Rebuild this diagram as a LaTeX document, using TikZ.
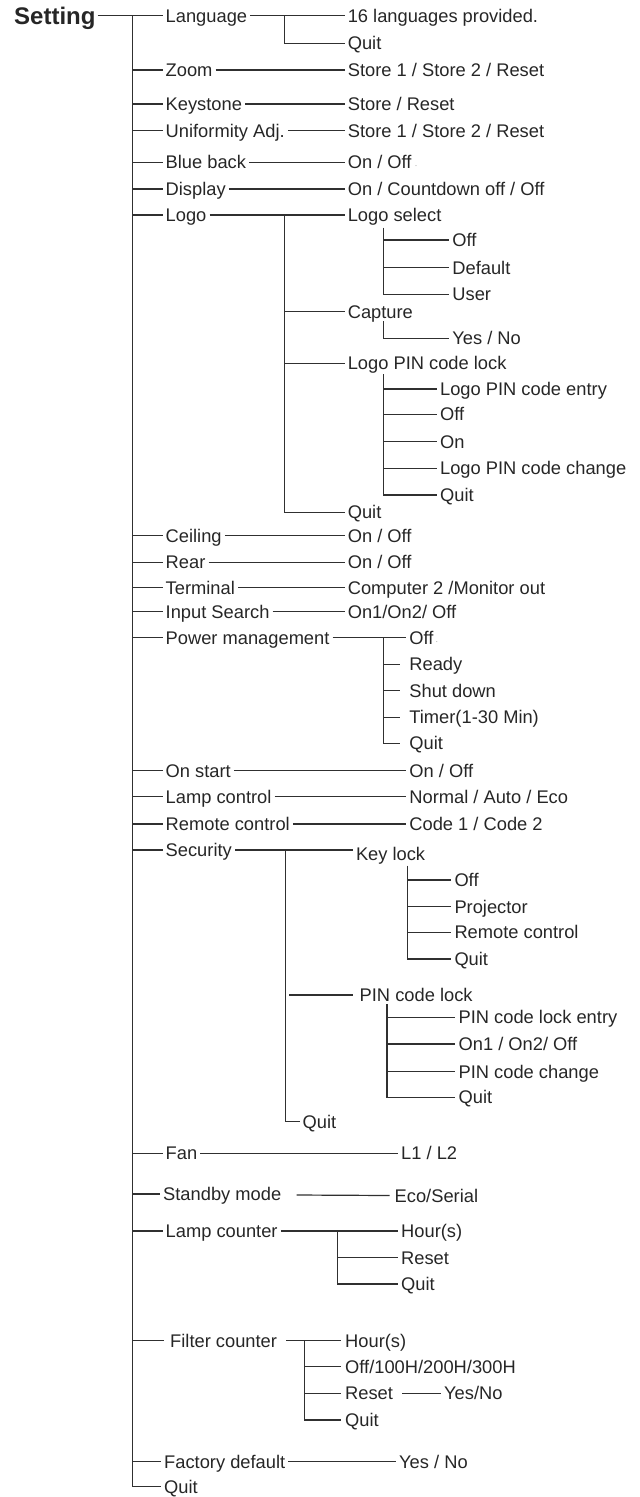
\documentclass[tikz,border=0pt]{standalone}
\usepackage{fontspec}
\setmainfont{Liberation Sans}
\definecolor{txt}{HTML}{262626}
\definecolor{lin}{HTML}{303030}
\begin{document}
\begin{tikzpicture}[x=1pt,y=-1pt,
  lbl/.style={anchor=west,inner xsep=3pt,inner ysep=0pt,text height=13.1pt,text depth=0pt,text=txt,font=\fontsize{18.3}{20}\selectfont},
  ttl/.style={anchor=west,inner xsep=2pt,inner ysep=0pt,text height=17.2pt,text depth=0pt,text=txt,font=\fontsize{24}{26}\bfseries\selectfont},
  ln/.style={draw=lin,line width=1.2pt},
  speck/.style={text=gray}]
\useasboundingbox (0,0) rectangle (640,1497);
% ---------- root ----------
\node[ttl] (set) at (12,15.5) {Setting};
\coordinate (mtop) at (132.5,15.5);
% ---------- level 1 ----------
\node[lbl] (lang)  at (162.5,15.5)  {Language};
\node[lbl] (zoom)  at (162.5,70)    {Zoom};
\node[lbl] (key)   at (162.5,104)   {Keystone};
\node[lbl] (uni)   at (162.5,130.7) {Uniformity Adj.};
\node[lbl] (blue)  at (162.5,162.3) {Blue back};
\node[lbl] (disp)  at (162.5,189)   {Display};
\node[lbl] (logo)  at (162.5,215)   {Logo};
\node[lbl] (ceil)  at (162.5,535.7) {Ceiling};
\node[lbl] (rear)  at (162.5,562.3) {Rear};
\node[lbl] (term)  at (162.5,587.7) {Terminal};
\node[lbl] (inp)   at (162.5,611.7) {Input Search};
\node[lbl] (pm)    at (162.5,637.7) {Power management};
\node[lbl] (ons)   at (162.5,770.7) {On start};
\node[lbl] (lamp)  at (162.5,796.7) {Lamp control};
\node[lbl] (rem)   at (162.5,824)   {Remote control};
\node[lbl] (sec)   at (162.5,850)   {Security};
\node[lbl] (fan)   at (162.5,1153.3){Fan};
\node[lbl] (stby)  at (160,1194)    {Standby mode};
\node[lbl] (lampc) at (162.5,1231)  {Lamp counter};
\node[lbl] (filt)  at (167,1340.7)  {Filter counter};
\node[lbl] (fact)  at (161,1461.7)  {Factory default};
\node[lbl] (mquit) at (161,1486.7)  {Quit};
% main trunk
\draw[ln] (set.east) -- (lang.west);
\draw[ln] (mtop) -- (mtop |- mquit.west) -- (mquit.west);
\foreach \n in {zoom,key,uni,blue,disp,logo,ceil,rear,term,inp,pm,ons,lamp,rem,sec,fan,stby,lampc,fact}
  \draw[ln] (mtop |- \n.west) -- (\n.west);
\draw[ln] (mtop |- filt.west) -- ([xshift=-3pt]filt.west);
% ---------- language ----------
\node[lbl] (lang16) at (344.6,15.5) {16 languages provided.};
\node[lbl] (langq)  at (344.6,43.3) {Quit};
\coordinate (langv) at (284.3,15.5);
\draw[ln] (lang.east) -- (lang16.west);
\draw[ln] (langv) |- (langq.west);
% ---------- simple pairs ----------
\node[lbl] (zoomv) at (344.6,70)    {Store 1 / Store 2 / Reset};
\node[lbl] (keyv)  at (344.6,104)   {Store / Reset};
\node[lbl] (univ)  at (344.6,130.7) {Store 1 / Store 2 / Reset};
\node[lbl] (bluev) at (344.6,162.3) {On / Off\hspace{3pt}{\color{gray!70}\fontsize{9}{10}\selectfont ·}};
\node[lbl] (dispv) at (344.6,189)   {On / Countdown off / Off};
\foreach \a/\b in {zoom/zoomv,key/keyv,uni/univ,blue/bluev,disp/dispv}
  \draw[ln] (\a.east) -- (\b.west);
% ---------- logo ----------
\node[lbl] (lsel)  at (344.6,215)   {Logo select};
\node[lbl] (cap)   at (344.6,311.7) {Capture};
\node[lbl] (lpin)  at (344.6,363.3) {Logo PIN code lock};
\node[lbl] (logoq) at (344.6,512.3) {Quit};
\coordinate (logov) at (284.3,215);
\draw[ln] (logo.east) -- (lsel.west);
\draw[ln] (logov) |- (logoq.west);
\draw[ln] (logov |- cap.west) -- (cap.west);
\draw[ln] (logov |- lpin.west) -- (lpin.west);
% logo select children
\node[lbl] (lsoff)  at (449.2,240)   {Off};
\node[lbl] (lsdef)  at (449.2,267.7) {Default};
\node[lbl] (lsuser) at (449.2,294.3) {User};
\coordinate (lsv) at (383.6,227.7);
\draw[ln] (lsv) |- (lsuser.west);
\draw[ln] (lsv |- lsoff.west) -- (lsoff.west);
\draw[ln] (lsv |- lsdef.west) -- (lsdef.west);
% capture children
\node[lbl] (capyn) at (449.2,338.3) {Yes / No};
\coordinate (capv) at (383.6,321);
\draw[ln] (capv) |- (capyn.west);
% logo pin children
\node[lbl] (lpe)   at (436.9,389)   {Logo PIN code entry};
\node[lbl] (lpoff) at (436.9,414.3) {Off};
\node[lbl] (lpon)  at (436.9,441.7) {On};
\node[lbl] (lpch)  at (436.9,468.3) {Logo PIN code change};
\node[lbl] (lpq)   at (436.9,495)   {Quit};
\coordinate (lpv) at (383.6,374.3);
\draw[ln] (lpv) |- (lpq.west);
\foreach \n in {lpe,lpoff,lpon,lpch}
  \draw[ln] (lpv |- \n.west) -- (\n.west);
% ---------- ceiling .. input search ----------
\node[lbl] (ceilv) at (344.6,535.7) {On / Off};
\node[lbl] (rearv) at (344.6,562.3) {On / Off};
\node[lbl] (termv) at (344.6,587.7) {Computer 2 /Monitor out};
\node[lbl] (inpv)  at (344.6,611.7) {On1/On2/ Off};
\foreach \a/\b in {ceil/ceilv,rear/rearv,term/termv,inp/inpv}
  \draw[ln] (\a.east) -- (\b.west);
% ---------- power management ----------
\node[lbl] (pmoff) at (406.2,637.7) {Off\hspace{2pt}{\color{gray!70}\fontsize{9}{10}\selectfont ·}};
\node[lbl] (pmrdy) at (406.2,664.3) {Ready};
\node[lbl] (pmsd)  at (406.2,690.7) {Shut down};
\node[lbl] (pmtim) at (406.2,717.3) {Timer(1-30 Min)};
\node[lbl] (pmq)   at (406.2,743.3) {Quit};
\coordinate (pmv) at (383.6,637.7);
\draw[ln] (pm.east) -- (pmoff.west);
\draw[ln] (pmv) |- ([xshift=-6.2pt]pmq.west);
\foreach \n in {pmrdy,pmsd,pmtim}
  \draw[ln] (pmv |- \n.west) -- ([xshift=-6.2pt]\n.west);
% ---------- on start .. remote ----------
\node[lbl] (onsv)  at (406.2,770.7) {On / Off};
\node[lbl] (lampv) at (406.2,796.7) {Normal / Auto / Eco};
\node[lbl] (remv)  at (406.2,824)   {Code 1 / Code 2};
\foreach \a/\b in {ons/onsv,lamp/lampv,rem/remv}
  \draw[ln] (\a.east) -- (\b.west);
% ---------- security ----------
\node[lbl] (kl)   at (352.8,853.5)  {Key lock};
\node[lbl] (pin)  at (356.5,995)    {PIN code lock};
\node[lbl] (secq) at (299.5,1121.7) {Quit};
\coordinate (secv) at (285.1,850);
\draw[ln] (sec.east) -- (sec.east -| kl.west);
\draw[ln] (secv) |- (secq.west);
\coordinate (pinst) at (289.2,995);
\draw[ln] (pinst) -- ([xshift=-3.7pt]pin.west);
% key lock children
\node[lbl] (kloff)  at (451.3,880)   {Off};
\node[lbl] (klproj) at (451.3,906.7) {Projector};
\node[lbl] (klrem)  at (451.3,932.3) {Remote control};
\node[lbl] (klq)    at (451.3,959)   {Quit};
\coordinate (klv) at (407.4,865.7);
\draw[ln] (klv) |- (klq.west);
\foreach \n in {kloff,klproj,klrem}
  \draw[ln] (klv |- \n.west) -- (\n.west);
% pin code lock children
\node[lbl] (pine)  at (455.4,1017.3) {PIN code lock entry};
\node[lbl] (pinon) at (455.4,1044)   {On1 / On2/ Off};
\node[lbl] (pinch) at (455.4,1071.7) {PIN code change};
\node[lbl] (pinq)  at (455.4,1097.3) {Quit};
\coordinate (pinv) at (386.9,1004.3);
\draw[ln] (pinv) |- (pinq.west);
\foreach \n in {pine,pinon,pinch}
  \draw[ln] (pinv |- \n.west) -- (\n.west);
% ---------- fan, standby ----------
\node[lbl] (fanv)  at (398,1153.3)  {L1 / L2};
\draw[ln] (fan.east) -- (fanv.west);
\node[lbl] (stbyv) at (391.5,1195.5) {Eco/Serial};
\coordinate (stbyst) at (296.6,1195);
\draw[ln] (stbyst) -- ([xshift=-1.8pt]stbyv.west);
% ---------- lamp counter ----------
\node[lbl] (lch) at (398,1231)   {Hour(s)};
\node[lbl] (lcr) at (398,1257.7) {Reset};
\node[lbl] (lcq) at (398,1284)   {Quit};
\coordinate (lcv) at (337.6,1231);
\draw[ln] (lampc.east) -- (lch.west);
\draw[ln] (lcv) |- (lcq.west);
\draw[ln] (lcv |- lcr.west) -- (lcr.west);
% ---------- filter counter ----------
\node[lbl] (fh)   at (342,1340.7) {Hour(s)};
\node[lbl] (foff) at (342,1366.7) {Off/100H/200H/300H};
\node[lbl] (fr)   at (342,1393.3) {Reset};
\node[lbl] (fq)   at (342,1420)   {Quit};
\coordinate (fst) at (286,1340.7);
\coordinate (fv) at (304.4,1340.7);
\draw[ln] (fst) -- ([xshift=-1.5pt]fh.west);
\draw[ln] (fv) |- ([xshift=-1.5pt]fq.west);
\foreach \n in {foff,fr}
  \draw[ln] (fv |- \n.west) -- ([xshift=-1.5pt]\n.west);
\node[lbl] (fryn) at (441,1393.3) {Yes/No};
\draw[ln] ([xshift=6pt]fr.east) -- (fryn.west);
% ---------- factory default ----------
\node[lbl] (factv) at (396,1461.7) {Yes / No};
\draw[ln] (fact.east) -- (factv.west);
\end{tikzpicture}
\end{document}
